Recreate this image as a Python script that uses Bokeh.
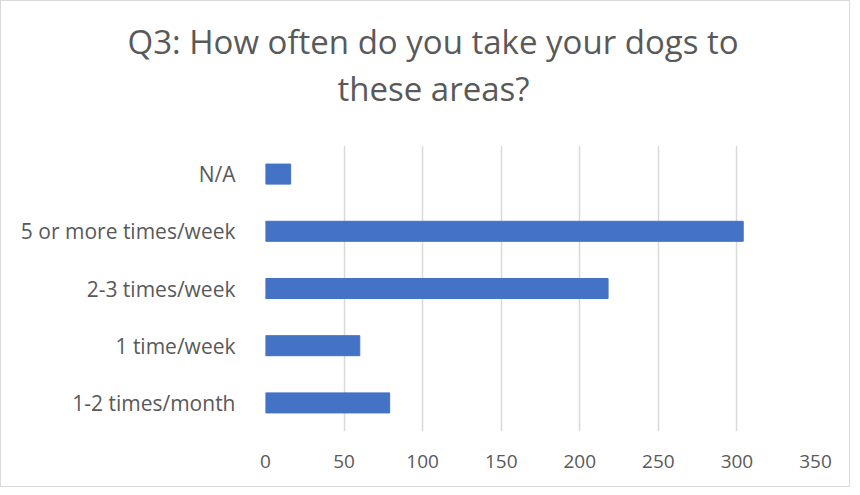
from bokeh.plotting import figure
from bokeh.models import Title, FactorRange, Range1d, FixedTicker
from bokeh.embed import file_html
from bokeh.resources import INLINE

categories = ["1-2 times/month", "1 time/week", "2-3 times/week", "5 or more times/week", "N/A"]
counts = [79, 60, 218, 304, 16]
x_ticks = [0, 50, 100, 150, 200, 250, 300, 350]
title_lines = ["Q3: How often do you take your dogs to", "these areas?"]

FONT = "Open Sans"
GRAY = "#595959"

p = figure(width=850, height=487, output_backend="svg", toolbar_location=None,
           y_range=FactorRange(*categories, range_padding=0), x_range=Range1d(0, 350))
p.styles = {"border": "1px solid #d9d9d9", "box-sizing": "border-box"}
p.min_border_left = 264
p.min_border_right = 36
p.min_border_top = 144
p.min_border_bottom = 57
p.outline_line_color = None

p.hbar(y=categories, right=counts, left=0, height=0.35, color="#4472C4")

# spacer between frame and title
p.add_layout(Title(text=" ", text_font=FONT, text_font_size="20px", standoff=6), "above")
# two-line title, lower line added first (closest to the frame)
p.add_layout(Title(text=title_lines[1], align="left", offset=72, standoff=0,
                   text_font=FONT, text_font_size="33px", text_font_style="normal",
                   text_color=GRAY), "above")
p.add_layout(Title(text=title_lines[0], align="left", offset=-138, standoff=0,
                   text_font=FONT, text_font_size="33px", text_font_style="normal",
                   text_color=GRAY), "above")

p.xaxis.ticker = FixedTicker(ticks=x_ticks)
p.xaxis.axis_line_color = None
p.xaxis.major_tick_line_color = None
p.xaxis.minor_tick_line_color = None
p.xaxis.major_label_text_font = FONT
p.xaxis.major_label_text_font_size = "19px"
p.xaxis.major_label_text_color = GRAY
p.xaxis.major_label_standoff = 17

p.yaxis.axis_line_color = None
p.yaxis.major_tick_line_color = None
p.yaxis.major_label_text_font = FONT
p.yaxis.major_label_text_font_size = "21px"
p.yaxis.major_label_text_color = GRAY
p.yaxis.major_label_standoff = 24

p.ygrid.grid_line_color = None
p.xgrid.grid_line_color = "#d9d9d9"
p.xgrid.grid_line_width = 1.5

open("out.html", "w").write(file_html(p, INLINE))
